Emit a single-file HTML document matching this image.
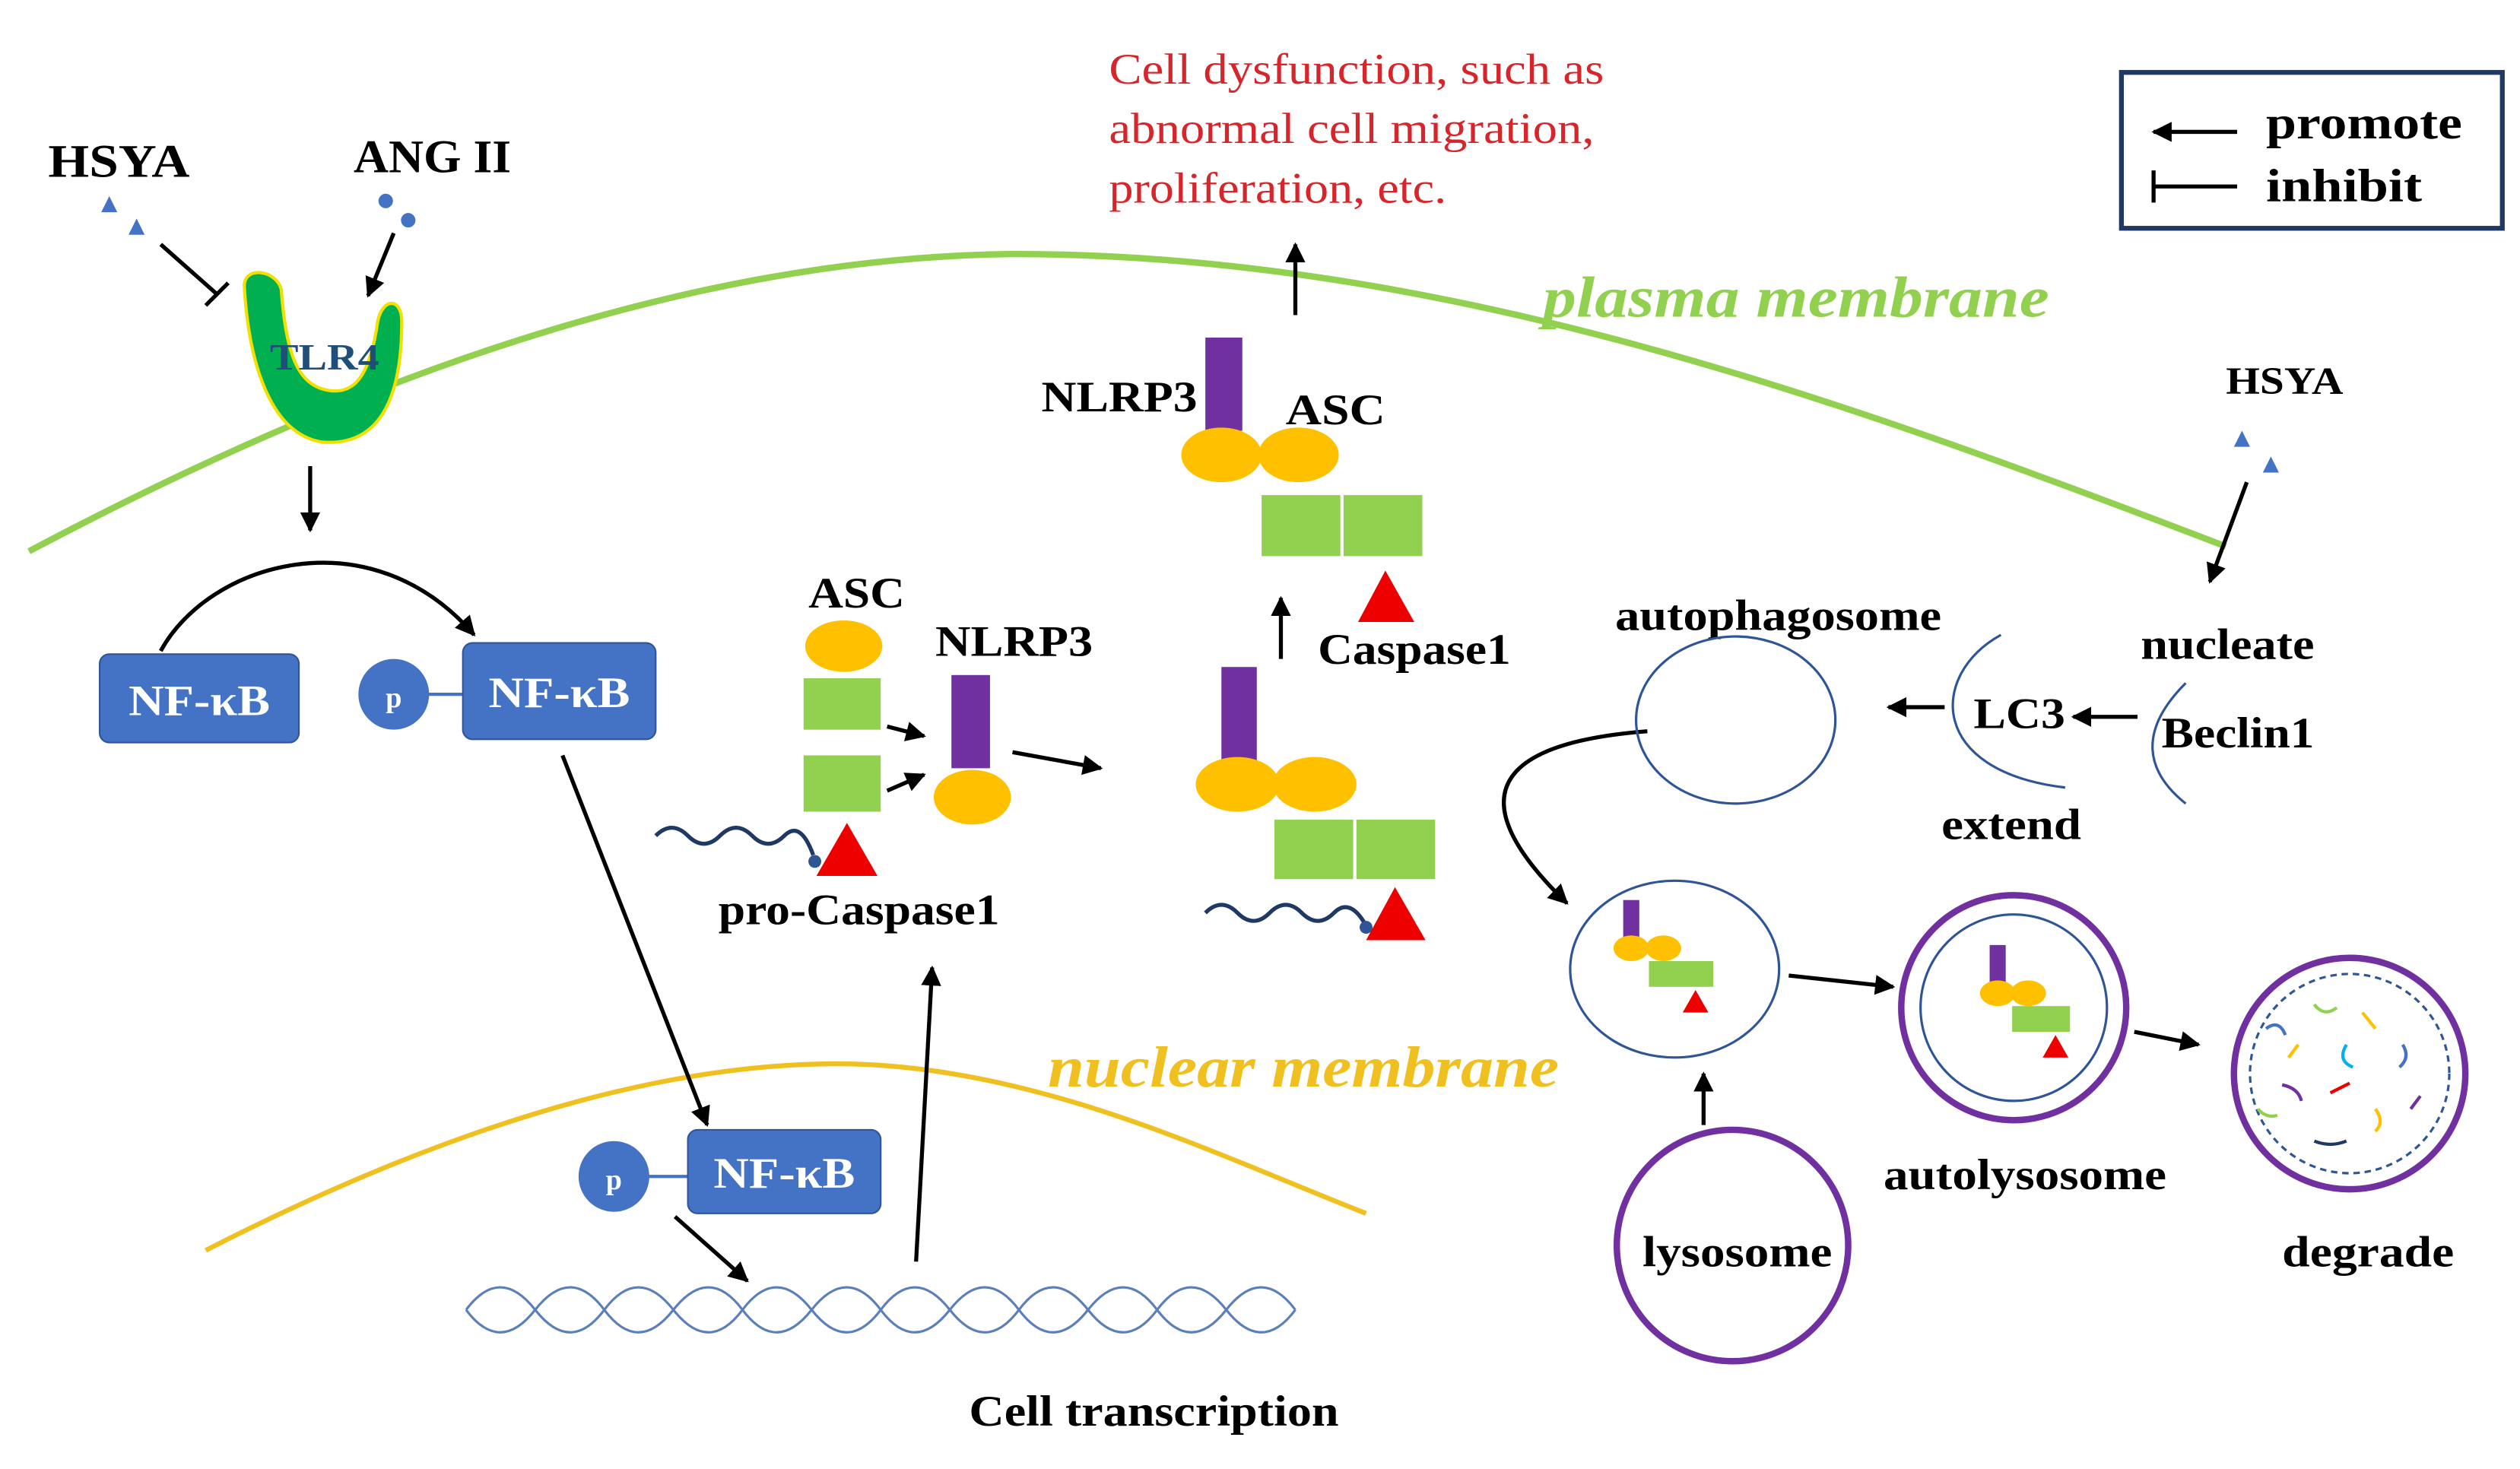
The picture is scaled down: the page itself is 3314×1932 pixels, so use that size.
<!DOCTYPE html>
<html><head><meta charset="utf-8"><style>html,body{margin:0;padding:0;background:#fff}svg{display:block}text{font-family:"Liberation Serif",serif;font-weight:bold}</style></head><body>
<svg width="3314" height="1932" viewBox="0 0 1568 914" xmlns="http://www.w3.org/2000/svg">
<defs><marker id="a" viewBox="0 0 10 10" refX="9" refY="5" markerWidth="5" markerHeight="5" orient="auto"><path d="M0,0L10,5L0,10z" fill="#000"/></marker></defs>
<g fill="none" stroke="#000" stroke-width="2.5">
<rect x="1320" y="45" width="237" height="97" stroke="#1f3864" stroke-width="3"/>
<line x1="1392" y1="82" x2="1340" y2="82" marker-end="url(#a)"/>
<line x1="1340" y1="116" x2="1392" y2="116"/><line x1="1340" y1="106" x2="1340" y2="126"/>
</g>
<text x="1410" y="86" font-size="29" textLength="122" lengthAdjust="spacingAndGlyphs">promote</text><text x="1410" y="125" font-size="29" textLength="97" lengthAdjust="spacingAndGlyphs">inhibit</text>
<g font-size="27" fill="#d7262b"><text x="690" y="52" style="font-weight:normal" textLength="308" lengthAdjust="spacingAndGlyphs">Cell dysfunction, such as</text><text x="690" y="89" style="font-weight:normal" textLength="302" lengthAdjust="spacingAndGlyphs">abnormal cell migration,</text><text x="690" y="126" style="font-weight:normal" textLength="210" lengthAdjust="spacingAndGlyphs">proliferation, etc.</text></g>
<path d="M18,343 C250,220 450,160 630,158 C900,158 1150,250 1385,340" fill="none" stroke="#92d050" stroke-width="4"/>
<text x="960" y="197" font-size="36" fill="#92d050" font-style="italic" textLength="315" lengthAdjust="spacingAndGlyphs">plasma membrane</text>
<path d="M128,778 C300,690 430,660 530,662 C650,665 760,720 850,755" fill="none" stroke="#f0c020" stroke-width="3"/>
<text x="652" y="676" font-size="36" fill="#f0c020" font-style="italic" textLength="318" lengthAdjust="spacingAndGlyphs">nuclear membrane</text>
<text x="30" y="110" font-size="29" textLength="88" lengthAdjust="spacingAndGlyphs">HSYA</text>
<path d="M68,122l5,10h-10z M85,136l5,10h-10z" fill="#4472c4"/>
<g stroke="#000" stroke-width="2.5" fill="none"><line x1="100" y1="152" x2="135" y2="183"/><line x1="128" y1="190" x2="142" y2="176"/></g>
<text x="220" y="107" font-size="29" textLength="98" lengthAdjust="spacingAndGlyphs">ANG II</text>
<circle cx="240" cy="125" r="4.5" fill="#4472c4"/><circle cx="254" cy="137" r="4.5" fill="#4472c4"/>
<line x1="245" y1="145" x2="229" y2="184" stroke="#000" stroke-width="2.5" marker-end="url(#a)"/>
<path d="M152,178 C155,230 170,270 200,275 C235,278 250,250 250,200 C250,185 238,185 235,200 C230,235 220,245 205,243 C185,240 178,220 175,180 C172,168 152,165 152,178z" fill="#00b050" stroke="#f2e100" stroke-width="2"/>
<text x="168" y="230" font-size="23" fill="#1f4e79" textLength="68" lengthAdjust="spacingAndGlyphs">TLR4</text>
<g stroke="#000" stroke-width="2.5" fill="none">
<line x1="193" y1="290" x2="193" y2="330" marker-end="url(#a)"/>
<path d="M100,405 C130,350 230,320 295,395" marker-end="url(#a)"/>
<line x1="350" y1="470" x2="440" y2="700" marker-end="url(#a)"/>
<line x1="420" y1="757" x2="465" y2="797" marker-end="url(#a)"/>
<line x1="570" y1="785" x2="580" y2="602" marker-end="url(#a)"/>
<line x1="552" y1="452" x2="575" y2="458" marker-end="url(#a)"/>
<line x1="552" y1="492" x2="575" y2="482" marker-end="url(#a)"/>
<line x1="630" y1="468" x2="685" y2="478" marker-end="url(#a)"/>
<line x1="797" y1="410" x2="797" y2="372" marker-end="url(#a)"/>
<line x1="806" y1="196" x2="806" y2="152" marker-end="url(#a)"/>
<line x1="1398" y1="300" x2="1375" y2="362" marker-end="url(#a)"/>
<line x1="1330" y1="446" x2="1290" y2="446" marker-end="url(#a)"/>
<line x1="1210" y1="440" x2="1175" y2="440" marker-end="url(#a)"/>
<path d="M1025,455 C960,460 890,480 975,562" marker-end="url(#a)"/>
<line x1="1113" y1="607" x2="1178" y2="614" marker-end="url(#a)"/>
<line x1="1060" y1="700" x2="1060" y2="668" marker-end="url(#a)"/>
<line x1="1328" y1="642" x2="1368" y2="650" marker-end="url(#a)"/>
</g>
<rect x="62" y="407" width="124" height="55" rx="6" fill="#4472c4" stroke="#2f5597"/>
<text x="124" y="445" font-size="27" fill="#fff" text-anchor="middle" textLength="88" lengthAdjust="spacingAndGlyphs">NF-κB</text>
<line x1="265" y1="432" x2="290" y2="432" stroke="#4472c4" stroke-width="2"/>
<circle cx="245" cy="432" r="22" fill="#4472c4"/><text x="245" y="440" font-size="18" fill="#fff" text-anchor="middle">p</text>
<rect x="288" y="400" width="120" height="60" rx="6" fill="#4472c4" stroke="#2f5597"/>
<text x="348" y="440" font-size="27" fill="#fff" text-anchor="middle" textLength="88" lengthAdjust="spacingAndGlyphs">NF-κB</text>
<line x1="402" y1="732" x2="430" y2="732" stroke="#4472c4" stroke-width="2"/>
<circle cx="382" cy="732" r="22" fill="#4472c4"/><text x="382" y="740" font-size="18" fill="#fff" text-anchor="middle">p</text>
<rect x="428" y="703" width="120" height="52" rx="6" fill="#4472c4" stroke="#2f5597"/>
<text x="488" y="739" font-size="27" fill="#fff" text-anchor="middle" textLength="88" lengthAdjust="spacingAndGlyphs">NF-κB</text>
<g fill="none" stroke="#5b7fb8" stroke-width="1.5">
<path d="M290,815 q21,-28 43,0 t43,0 t43,0 t43,0 t43,0 t43,0 t43,0 t43,0 t43,0 t43,0 t43,0 t43,0"/>
<path d="M290,815 q21,28 43,0 t43,0 t43,0 t43,0 t43,0 t43,0 t43,0 t43,0 t43,0 t43,0 t43,0 t43,0"/>
</g>
<text x="603" y="887" font-size="27" textLength="230" lengthAdjust="spacingAndGlyphs">Cell transcription</text>
<text x="503" y="378" font-size="27" textLength="60" lengthAdjust="spacingAndGlyphs">ASC</text>
<ellipse cx="525" cy="402" rx="24" ry="16" fill="#ffc000"/>
<rect x="500" y="422" width="48" height="32" fill="#92d050"/><rect x="500" y="470" width="48" height="35" fill="#92d050"/>
<path d="M408,520 q10,-10 20,0 t20,0 t20,0 t20,0 t18,12" fill="none" stroke="#1f3864" stroke-width="2.5"/>
<circle cx="507" cy="536" r="4" fill="#2f5597"/>
<path d="M527,512L508,545H546z" fill="#e00"/>
<text x="447" y="575" font-size="27" textLength="175" lengthAdjust="spacingAndGlyphs">pro-Caspase1</text>
<text x="582" y="408" font-size="27" textLength="98" lengthAdjust="spacingAndGlyphs">NLRP3</text>
<rect x="592" y="420" width="24" height="58" fill="#7030a0"/>
<ellipse cx="605" cy="496" rx="24" ry="17" fill="#ffc000"/>
<rect x="760" y="415" width="22" height="60" fill="#7030a0"/>
<ellipse cx="770" cy="488" rx="26" ry="17" fill="#ffc000"/><ellipse cx="818" cy="488" rx="26" ry="17" fill="#ffc000"/>
<rect x="793" y="510" width="49" height="37" fill="#92d050"/><rect x="844" y="510" width="49" height="37" fill="#92d050"/>
<path d="M750,568 q10,-10 20,0 t20,0 t20,0 t20,0 t20,8" fill="none" stroke="#1f3864" stroke-width="2.5"/>
<circle cx="850" cy="577" r="4" fill="#2f5597"/>
<path d="M868,552L850,585H887z" fill="#e00"/>
<text x="648" y="256" font-size="27" textLength="97" lengthAdjust="spacingAndGlyphs">NLRP3</text>
<rect x="750" y="210" width="23" height="58" fill="#7030a0"/>
<ellipse cx="760" cy="283" rx="25" ry="17" fill="#ffc000"/><ellipse cx="808" cy="283" rx="25" ry="17" fill="#ffc000"/>
<text x="800" y="264" font-size="27" textLength="62" lengthAdjust="spacingAndGlyphs">ASC</text>
<rect x="785" y="308" width="49" height="38" fill="#92d050"/><rect x="836" y="308" width="49" height="38" fill="#92d050"/>
<path d="M862,355L845,387H880z" fill="#e00"/>
<text x="820" y="413" font-size="27" textLength="120" lengthAdjust="spacingAndGlyphs">Caspase1</text>
<text x="1385" y="245" font-size="24" textLength="73" lengthAdjust="spacingAndGlyphs">HSYA</text>
<path d="M1395,268l5,10h-10z M1413,284l5,10h-10z" fill="#4472c4"/>
<text x="1332" y="410" font-size="27" textLength="108" lengthAdjust="spacingAndGlyphs">nucleate</text>
<text x="1345" y="465" font-size="27" textLength="95" lengthAdjust="spacingAndGlyphs">Beclin1</text>
<path d="M1360,425 C1330,455 1335,480 1360,500" fill="none" stroke="#2f5597" stroke-width="1.5"/>
<text x="1228" y="453" font-size="27" textLength="57" lengthAdjust="spacingAndGlyphs">LC3</text>
<path d="M1245,395 C1200,420 1200,480 1285,490" fill="none" stroke="#2f5597" stroke-width="1.5"/>
<text x="1208" y="522" font-size="27" textLength="87" lengthAdjust="spacingAndGlyphs">extend</text>
<text x="1005" y="392" font-size="27" textLength="203" lengthAdjust="spacingAndGlyphs">autophagosome</text>
<ellipse cx="1080" cy="448" rx="62" ry="52" fill="none" stroke="#2f5597" stroke-width="1.5"/>
<ellipse cx="1042" cy="603" rx="65" ry="55" fill="none" stroke="#2f5597" stroke-width="1.5"/>
<rect x="1010" y="560" width="10" height="25" fill="#7030a0"/>
<ellipse cx="1015" cy="590" rx="11" ry="8" fill="#ffc000"/><ellipse cx="1035" cy="590" rx="11" ry="8" fill="#ffc000"/>
<rect x="1026" y="598" width="40" height="16" fill="#92d050"/><path d="M1055,616L1047,630H1063z" fill="#e00"/>
<circle cx="1253" cy="627" r="70" fill="none" stroke="#7030a0" stroke-width="4"/>
<circle cx="1253" cy="627" r="58" fill="none" stroke="#2f5597" stroke-width="1.5"/>
<rect x="1238" y="588" width="10" height="25" fill="#7030a0"/>
<ellipse cx="1243" cy="618" rx="11" ry="8" fill="#ffc000"/><ellipse cx="1262" cy="618" rx="11" ry="8" fill="#ffc000"/>
<rect x="1252" y="626" width="36" height="16" fill="#92d050"/><path d="M1279,644L1271,658H1287z" fill="#e00"/>
<text x="1172" y="740" font-size="27" textLength="176" lengthAdjust="spacingAndGlyphs">autolysosome</text>
<circle cx="1078" cy="775" r="72" fill="none" stroke="#7030a0" stroke-width="4"/>
<text x="1022" y="788" font-size="27" textLength="118" lengthAdjust="spacingAndGlyphs">lysosome</text>
<circle cx="1462" cy="668" r="72" fill="none" stroke="#7030a0" stroke-width="4"/>
<circle cx="1462" cy="668" r="62" fill="none" stroke="#2f5597" stroke-width="1.5" stroke-dasharray="4,3"/>
<g fill="none" stroke-width="2">
<path d="M1410,640q8,-6 12,4" stroke="#4472c4"/><path d="M1440,625q6,8 14,2" stroke="#92d050"/><path d="M1470,630l8,10" stroke="#ffc000"/>
<path d="M1495,650q5,8 -2,14" stroke="#4472c4"/><path d="M1420,675q10,2 12,10" stroke="#7030a0"/><path d="M1450,680l12,-6" stroke="#e00"/>
<path d="M1478,690q6,8 0,14" stroke="#ffc000"/><path d="M1440,710q10,4 20,0" stroke="#1f3864"/><path d="M1405,690q5,6 12,4" stroke="#92d050"/>
<path d="M1460,650q-6,10 4,14" stroke="#00b0f0"/><path d="M1500,690l6,-8" stroke="#7030a0"/><path d="M1430,650l-6,8" stroke="#ffc000"/>
</g>
<text x="1420" y="788" font-size="27" textLength="107" lengthAdjust="spacingAndGlyphs">degrade</text>
</svg>
</body></html>
